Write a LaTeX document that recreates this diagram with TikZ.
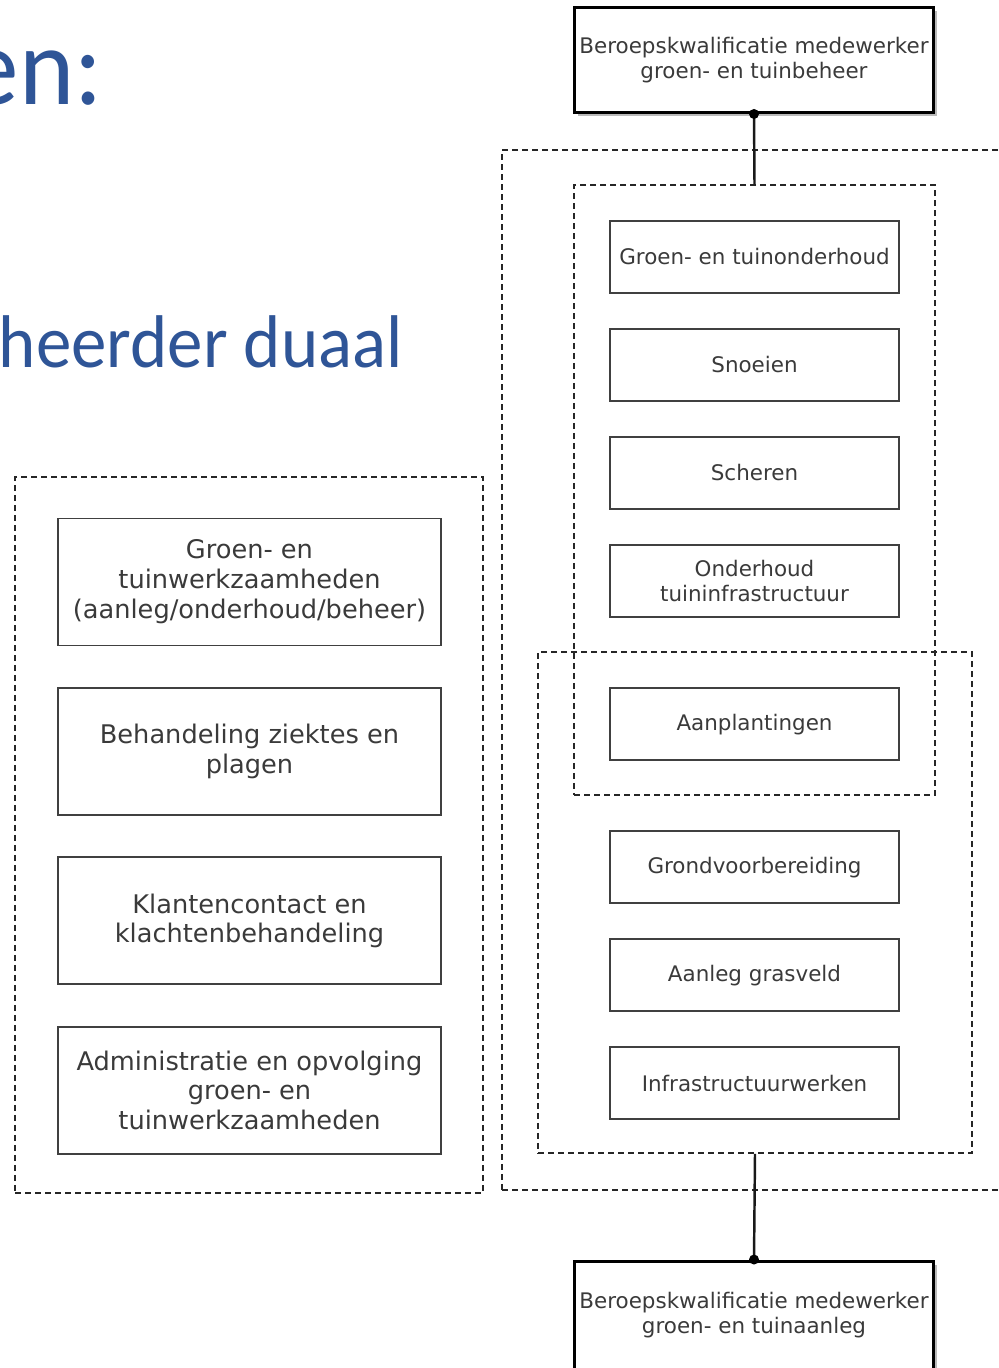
\documentclass[tikz,border=0pt]{standalone}
\usepackage{fontspec}
\usetikzlibrary{positioning,shadows}
\usepackage{xcolor}
\newfontfamily\boxfont{DejaVu Sans}
\newfontfamily\titlefont[FakeStretch=0.95]{Carlito}
\definecolor{titleblue}{HTML}{2F5597}
\definecolor{boxtext}{HTML}{3A3A3A}
\definecolor{boxline}{HTML}{404040}

\begin{document}
\begin{tikzpicture}%
    [x=0.02cm, y=-0.02cm,
    node distance=2.16cm,
    on grid,
    task/.style={draw=boxline, line width=1.1pt, minimum width=5.78cm, minimum height=1.44cm,
      align=center, inner sep=0pt, text=boxtext, font=\boxfont\fontsize{12.2}{14.2}\selectfont},
    duty/.style={task, minimum width=7.66cm, minimum height=2.54cm,
      font=\boxfont\fontsize{14.6}{17}\selectfont},
    qualif/.style={task, draw=black, line width=1.7pt, fill=white, minimum width=7.18cm, minimum height=2.1cm,
      drop shadow={shadow xshift=0.07cm, shadow yshift=-0.07cm, fill=black!45, opacity=0.6}},
    groupbox/.style={draw=black!85, line width=1.1pt, dash pattern=on 0.12cm off 0.08cm, inner sep=0pt},
    heading/.style={text=titleblue, anchor=base east, inner sep=0pt},
    link/.style={draw=black!90, line width=1.4pt}
    ]
    \useasboundingbox (0,0) rectangle (999,1368);

    % titles (cut off on the left)
    \node[heading, font=\titlefont\fontsize{63}{72}\selectfont] (kop1) at (103,105) {en:};
    \node[heading, font=\titlefont\fontsize{42.5}{50}\selectfont] (kop2) at (403,367) {heerder duaal};

    % left block
    \node[groupbox, minimum width=9.36cm, minimum height=14.32cm] (taken) at (249,835) {};
    \node[duty] (groen)                        at (249.5,582) {Groen- en\\tuinwerkzaamheden\\(aanleg/onderhoud/beheer)};
    \node[duty] (ziekte) [below=3.39cm of groen]  {Behandeling ziektes en\\plagen};
    \node[duty] (klant)  [below=3.39cm of ziekte] {Klantencontact en\\klachtenbehandeling};
    \node[duty] (admin)  [below=3.39cm of klant]  {Administratie en opvolging\\groen- en\\tuinwerkzaamheden};

    % right block
    \node[groupbox, minimum width=10.16cm, minimum height=20.8cm] (duaal)     at (756,670)   {};
    \node[groupbox, minimum width=7.22cm,  minimum height=12.2cm] (beheerset) at (754.5,490) {};
    \node[groupbox, minimum width=8.68cm,  minimum height=10.02cm] (aanlegset) at (755,902.5) {};

    \node[qualif] (beheer) at (754,60) {Beroepskwalificatie medewerker\\groen- en tuinbeheer};

    \node[task] (onderhoud)                          at (754.5,257) {Groen- en tuinonderhoud};
    \node[task] (snoeien)  [below=of onderhoud]      {Snoeien};
    \node[task] (scheren)  [below=of snoeien]        {Scheren};
    \node[task] (infra)    [below=of scheren]        {Onderhoud\\tuininfrastructuur};
    \node[task] (aanplant) [below=2.87cm of infra]   {Aanplantingen};
    \node[task] (grond)    [below=2.86cm of aanplant] {Grondvoorbereiding};
    \node[task] (gras)     [below=of grond]          {Aanleg grasveld};
    \node[task] (werken)   [below=of gras]           {Infrastructuurwerken};

    \node[qualif, minimum height=2.16cm] (aanleg) at (754,1315) {Beroepskwalificatie medewerker\\groen- en tuinaanleg};

    \path[link]
    (beheer.south)    edge (beheerset.north)
    (aanlegset.south) edge (aanleg.north)
    ;
    \fill (beheer.south) circle[radius=0.1cm];
    \fill (aanleg.north) circle[radius=0.1cm];
\end{tikzpicture}
\end{document}
